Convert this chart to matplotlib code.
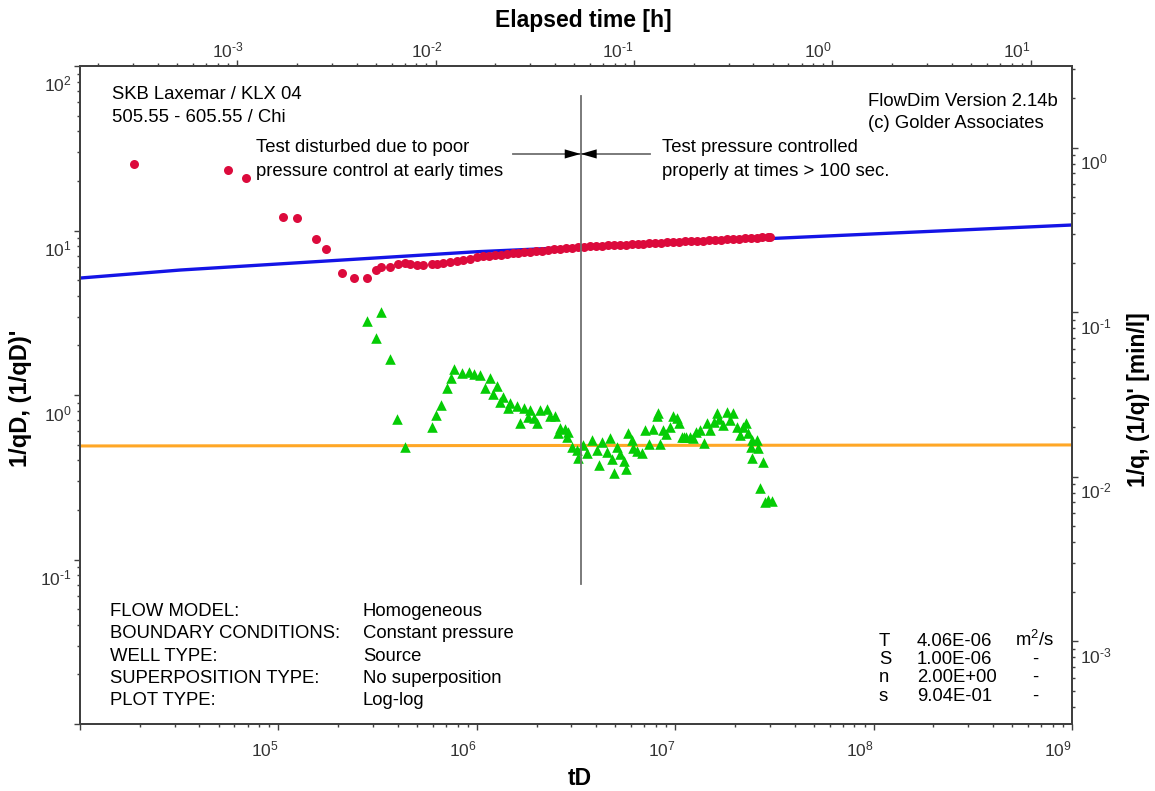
import math
import matplotlib
matplotlib.use("Agg")
import matplotlib.pyplot as plt
import matplotlib.transforms as mtransforms
from matplotlib.ticker import FixedLocator, FixedFormatter, LogLocator, NullFormatter

plt.rcParams["font.family"] = ["Liberation Sans", "DejaVu Sans"]
plt.rcParams["mathtext.fontset"] = "custom"
plt.rcParams["mathtext.rm"] = "Liberation Sans"
plt.rcParams["mathtext.it"] = "Liberation Sans:italic"
plt.rcParams["mathtext.bf"] = "Liberation Sans:bold"

# ---- data ----
# 1/qD measured (red circles)
red_td = [1.87e4, 5.58e4, 6.87e4, 1.06e5, 1.24e5, 1.54e5, 1.73e5, 2.10e5, 2.41e5, 2.80e5,
          3.11e5, 3.29e5, 3.65e5, 3.99e5, 4.34e5, 4.60e5, 5.01e5, 5.33e5, 5.92e5, 6.28e5,
          6.78e5, 7.32e5, 7.92e5, 8.55e5, 9.24e5, 9.98e5,
          1.072e6, 1.148e6, 1.230e6, 1.318e6, 1.413e6, 1.514e6, 1.622e6, 1.738e6, 1.862e6,
          1.995e6, 2.138e6, 2.291e6, 2.455e6, 2.630e6, 2.818e6, 3.020e6, 3.236e6, 3.467e6,
          3.715e6, 3.981e6, 4.266e6, 4.571e6, 4.898e6, 5.248e6, 5.623e6, 6.026e6, 6.457e6,
          6.918e6, 7.413e6, 7.943e6, 8.511e6, 9.120e6, 9.772e6, 1.047e7, 1.122e7, 1.202e7,
          1.288e7, 1.380e7, 1.479e7, 1.585e7, 1.698e7, 1.820e7, 1.950e7, 2.089e7, 2.239e7,
          2.399e7, 2.570e7, 2.754e7, 2.951e7, 3.02e7]
red_qd = [25.4, 23.3, 20.9, 12.1, 11.9, 8.84, 7.72, 5.49, 5.12, 5.12,
          5.75, 5.97, 5.97, 6.25, 6.32, 6.23, 6.17, 6.17, 6.25, 6.25,
          6.32, 6.45, 6.55, 6.62, 6.75, 6.94,
          6.98, 7.03, 7.08, 7.14, 7.19, 7.26, 7.31, 7.38, 7.43,
          7.48, 7.55, 7.60, 7.67, 7.73, 7.80, 7.85, 7.93, 7.96,
          8.00, 8.04, 8.07, 8.11, 8.15, 8.17, 8.20, 8.24, 8.28,
          8.32, 8.36, 8.39, 8.43, 8.47, 8.51, 8.55, 8.59, 8.61,
          8.65, 8.69, 8.73, 8.77, 8.81, 8.85, 8.89, 8.93, 8.97,
          8.99, 9.04, 9.08, 9.12, 9.14]

# (1/qD)' derivative (green triangles)
green_td = [2.81e5, 3.29e5, 3.10e5, 3.66e5, 3.97e5, 4.36e5, 5.93e5, 6.23e5, 6.61e5, 7.08e5,
            7.44e5, 7.71e5, 8.39e5, 9.16e5, 9.68e5, 1.04e6, 1.16e6, 1.10e6, 1.26e6, 1.21e6,
            1.36e6, 1.31e6, 1.47e6, 1.44e6, 1.59e6, 1.73e6, 1.85e6, 1.82e6, 1.66e6, 2.00e6,
            1.94e6, 2.08e6, 2.25e6, 2.34e6, 2.48e6, 2.62e6, 2.58e6, 2.79e6, 2.89e6, 2.84e6,
            3.01e6, 3.19e6, 3.25e6, 3.44e6, 3.58e6, 3.79e6, 4.02e6, 4.14e6, 4.26e6, 4.52e6,
            4.69e6, 4.79e6, 4.93e6, 5.11e6, 5.27e6, 5.52e6, 5.65e6, 5.81e6, 6.04e6, 6.15e6,
            6.44e6, 6.78e6, 7.05e6, 7.40e6, 7.76e6, 8.07e6, 8.22e6, 8.38e6, 8.71e6, 8.99e6,
            9.42e6, 9.78e6, 1.02e7, 1.05e7, 1.08e7, 1.11e7, 1.14e7, 1.19e7, 1.23e7, 1.28e7,
            1.33e7, 1.40e7, 1.44e7, 1.50e7, 1.56e7, 1.62e7, 1.67e7, 1.75e7, 1.82e7, 1.89e7,
            1.96e7, 2.04e7, 2.12e7, 2.19e7, 2.28e7, 2.33e7, 2.43e7, 2.58e7, 2.40e7, 2.62e7,
            2.45e7, 2.76e7, 2.67e7, 2.84e7, 2.94e7, 3.06e7]
green_qd = [2.82, 3.18, 2.21, 1.66, 0.711, 0.485, 0.641, 0.755, 0.873, 1.11,
            1.27, 1.43, 1.36, 1.38, 1.34, 1.32, 1.27, 1.10, 1.13, 1.02,
            0.977, 0.906, 0.897, 0.830, 0.857, 0.830, 0.811, 0.738, 0.673, 0.673,
            0.721, 0.811, 0.818, 0.745, 0.745, 0.628, 0.585, 0.618, 0.598, 0.557,
            0.485, 0.463, 0.412, 0.497, 0.446, 0.532, 0.463, 0.375, 0.520, 0.452,
            0.546, 0.406, 0.337, 0.485, 0.438, 0.399, 0.353, 0.590, 0.532, 0.474,
            0.458, 0.446, 0.612, 0.504, 0.618, 0.745, 0.774, 0.504, 0.612, 0.579,
            0.641, 0.745, 0.721, 0.679, 0.557, 0.556, 0.556, 0.553, 0.546, 0.598,
            0.612, 0.508, 0.673, 0.612, 0.689, 0.774, 0.711, 0.658, 0.791, 0.705,
            0.774, 0.641, 0.571, 0.641, 0.673, 0.585, 0.532, 0.532, 0.485, 0.474,
            0.412, 0.394, 0.271, 0.224, 0.230, 0.228]

# model curves
model_td = [1e4, 3.2e4, 1e6, 1e9]
model_qd = [5.14, 5.75, 7.43, 10.8]
deriv_td = [1e4, 1e9]
deriv_qd = [0.490, 0.497]

# markers of the flow-control split
split_td = 3.34e6
split_q = [0.071, 65.9]
arrow_q = 29.2
arrow_td = [1.52e6, 7.46e6]

TD_PER_HOUR = 10 ** 7.792     # tD / elapsed time [h]
QD_TO_Q = 10 ** -1.503        # 1/q [min/l] per 1/qD

W, H = 1155, 791
fig = plt.figure(figsize=(W / 100, H / 100), dpi=100)
ax = fig.add_axes([80 / W, 1 - 724 / H, (1072 - 80) / W, (724 - 66) / H])

ax.set_xscale("log"); ax.set_yscale("log")
ax.set_xlim(1e4, 1e9); ax.set_ylim(1e-2, 1e2)

ax.plot(model_td, model_qd, color="#1414E6", lw=2.4, zorder=2)
ax.plot(deriv_td, deriv_qd, color="#FFA726", lw=2.2, zorder=2)
ax.scatter(red_td, red_qd, s=42, marker="o", color="#DC0A3C", lw=0, zorder=3)
ax.scatter(green_td, green_qd, s=58, marker="^", color="#05CC05", lw=0, zorder=3)

ax.plot([split_td, split_td], split_q, color="#707070", lw=1.3, zorder=4)
ax.plot(arrow_td, [arrow_q, arrow_q], color="#707070", lw=1.3, zorder=4)
for xs in (arrow_td[0], arrow_td[1]):
    ax.annotate("", xy=(split_td, arrow_q), xytext=(xs, arrow_q),
                arrowprops=dict(arrowstyle="-|>,head_length=1.15,head_width=0.33",
                                color="black", lw=0, shrinkA=0, shrinkB=0), zorder=5)

spine_c = "#404040"
ax_top = ax.twiny()
ax_top.set_xscale("log")
ax_top.set_xlim(1e4 / TD_PER_HOUR, 1e9 / TD_PER_HOUR)
ax_r = ax.twinx()
ax_r.set_yscale("log")
ax_r.set_ylim(1e-2 * QD_TO_Q, 1e2 * QD_TO_Q)


def sup(m):
    e = int(round(math.log10(m)))
    if e < 0:
        return r"$10^{\text{-}%d}$" % (-e)
    return r"$10^{%d}$" % e


def setup(axis, majors, labelled):
    axis.set_major_locator(FixedLocator(majors))
    axis.set_major_formatter(FixedFormatter([sup(m) if m in labelled else "" for m in majors]))
    axis.set_minor_locator(LogLocator(base=10, subs=range(2, 10), numticks=50))
    axis.set_minor_formatter(NullFormatter())


setup(ax.xaxis, [1e4, 1e5, 1e6, 1e7, 1e8, 1e9], [1e5, 1e6, 1e7, 1e8, 1e9])
setup(ax.yaxis, [1e-2, 1e-1, 1e0, 1e1, 1e2], [1e-1, 1e0, 1e1, 1e2])
setup(ax_top.xaxis, [1e-3, 1e-2, 1e-1, 1e0, 1e1], [1e-3, 1e-2, 1e-1, 1e0, 1e1])
setup(ax_r.yaxis, [1e-3, 1e-2, 1e-1, 1e0], [1e-3, 1e-2, 1e-1, 1e0])

for a in (ax, ax_top, ax_r):
    for s in a.spines.values():
        s.set_color(spine_c); s.set_linewidth(1.2)
    a.tick_params(which="major", length=4.3, width=1.0, color=spine_c,
                  labelsize=12.5, labelcolor="#333333", direction="out")
    a.tick_params(which="minor", length=2.2, width=1.0, color=spine_c, direction="out")
ax.tick_params(axis="x", pad=7)
ax.tick_params(axis="y", pad=1.5)
ax_top.tick_params(axis="x", pad=0)
ax_r.tick_params(axis="y", pad=1.5)


def shift(labels, dx, dy, **kw):
    off = mtransforms.ScaledTranslation(dx / 100, dy / 100, fig.dpi_scale_trans)
    for lab in labels:
        lab.set_transform(lab.get_transform() + off)
        lab.set(**kw)


shift(ax.get_xticklabels(), 0, 0, ha="right")
shift(ax.get_yticklabels(), 0, -9, va="top")
top_labels = ax_top.get_xticklabels()
shift(top_labels[:2], 7, 0, ha="right")
shift(top_labels[2:], 0, 0, ha="right")
shift(ax_r.get_yticklabels(), 0, -5, va="top")

# ---- axis titles ----
fig.text(583 / W, 1 - 27 / H, "Elapsed time [h]", ha="center", va="baseline",
         fontsize=16.5, fontweight="bold")
fig.text(580 / W, 1 - 785 / H, "tD", ha="center", va="baseline",
         fontsize=16.5, fontweight="bold")
fig.text(21 / W, 1 - 398 / H, "1/qD, (1/qD)'", rotation=90, ha="center", va="center",
         fontsize=17, fontweight="bold")
fig.text(1138 / W, 1 - 400 / H, "1/q, (1/q)' [min/l]", rotation=90, ha="center",
         va="center", fontsize=16.5, fontweight="bold")

# ---- annotations ----
fs = 13.3


def txt(x, y, s, **kw):
    fig.text(x / W, 1 - y / H, s, fontsize=fs, va="baseline", color="black", **kw)


txt(112, 99, "SKB Laxemar / KLX 04")
txt(112, 122, "505.55 - 605.55 / Chi")
txt(868, 106, "FlowDim Version 2.14b")
txt(868, 128, "(c) Golder Associates")
txt(256, 152.5, "Test disturbed due to poor")
txt(256, 175.5, "pressure control at early times")
txt(662, 152.5, "Test pressure controlled")
txt(662, 175.5, "properly at times > 100 sec.")

info_keys = ["FLOW MODEL:", "BOUNDARY CONDITIONS:", "WELL TYPE:",
             "SUPERPOSITION TYPE:", "PLOT TYPE:"]
info_vals = ["Homogeneous", "Constant pressure", "Source", "No superposition", "Log-log"]
for i, (k, v) in enumerate(zip(info_keys, info_vals)):
    y = 616 + i * 22.3
    txt(110, y, k)
    txt(363, y, v)

par_names = ["T", "S", "n", "s"]
par_vals = ["4.06E-06", "1.00E-06", "2.00E+00", "9.04E-01"]
par_units = ["m$^2$/s", "-", "-", "-"]
for i, (n, v, u) in enumerate(zip(par_names, par_vals, par_units)):
    y = 645.7 + i * 18.3
    txt(879, y, n)
    txt(917, y, v)
    txt(1035, y, u, ha="center")

fig.savefig("out.png", dpi=100)
